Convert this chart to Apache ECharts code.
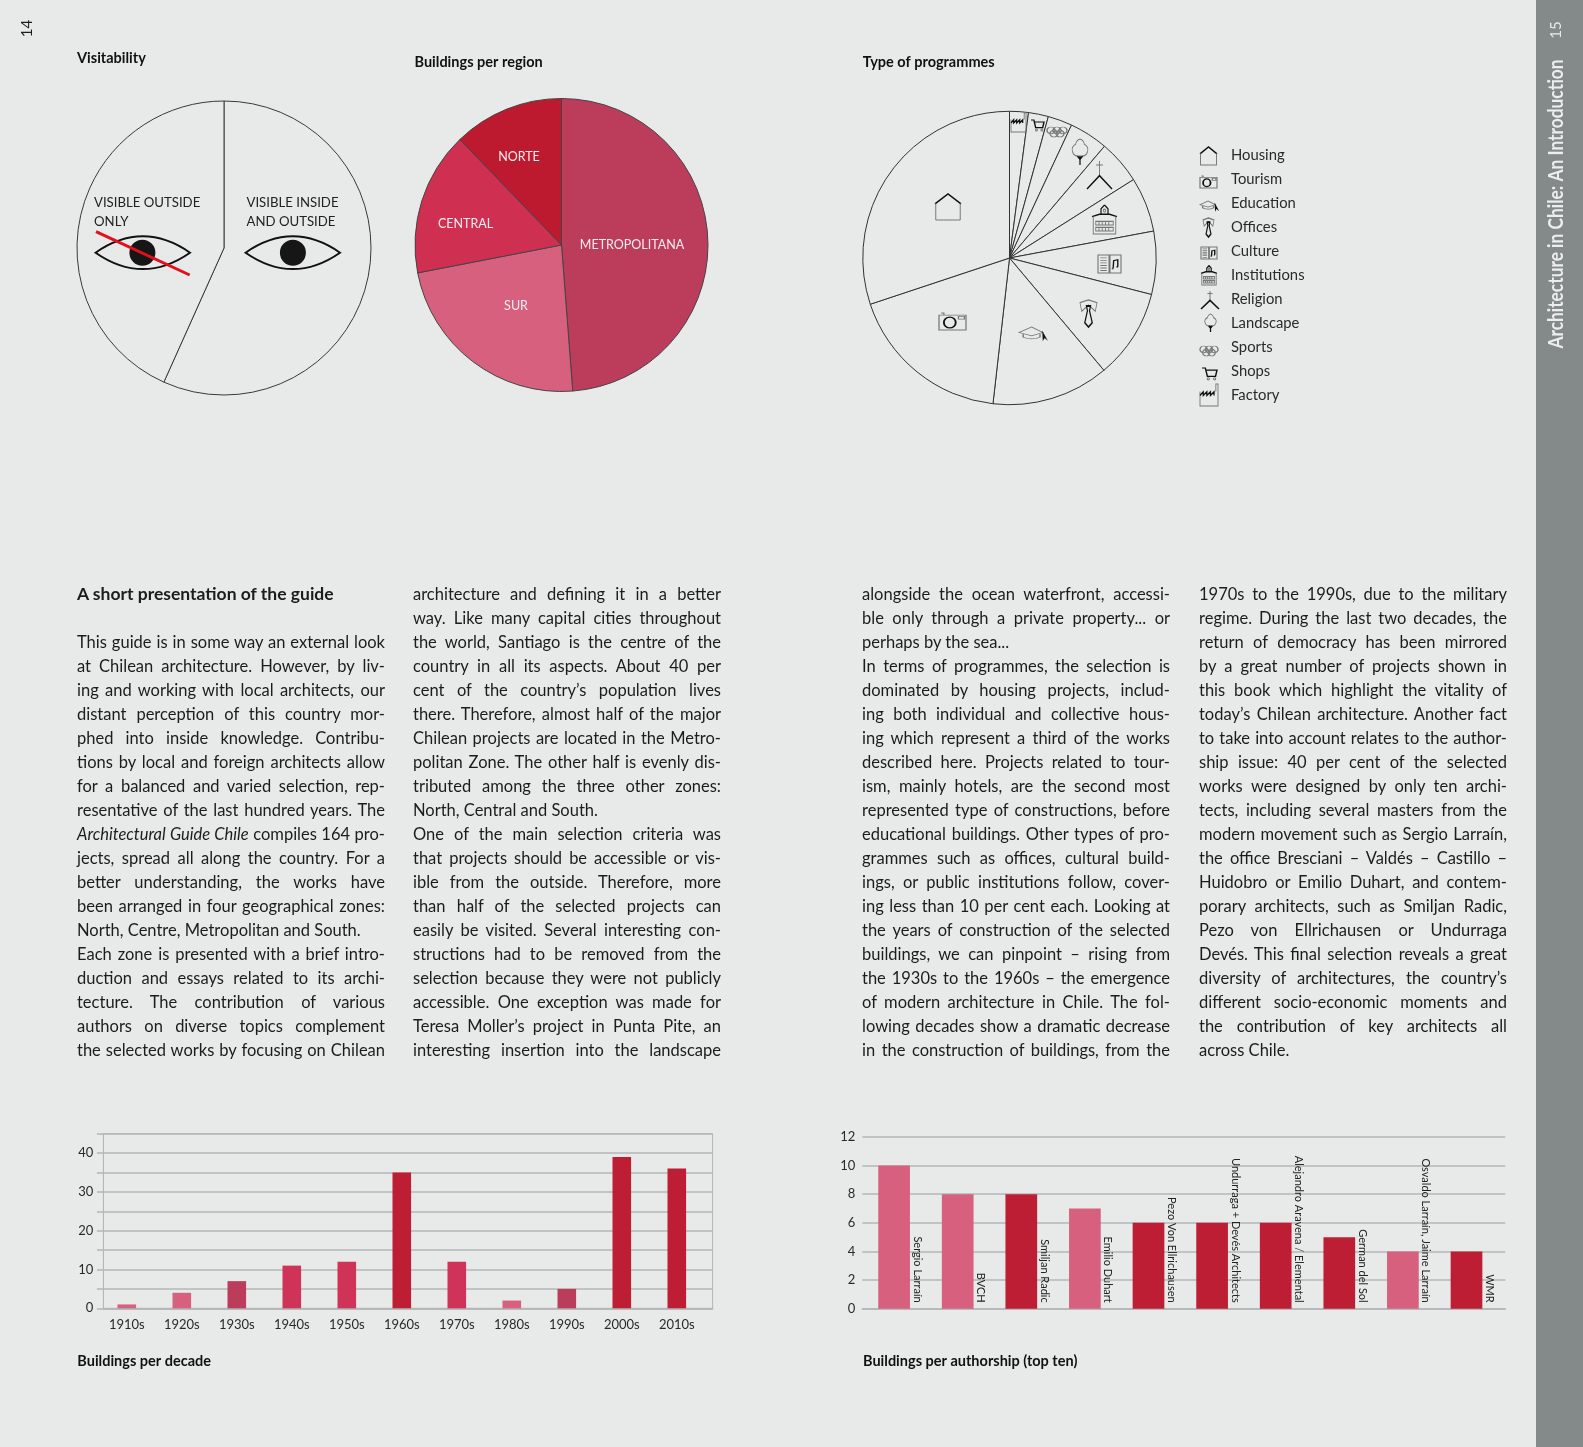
<!DOCTYPE html>
<html><head><meta charset="utf-8">
<style>
html,body{margin:0;padding:0;background:#e8e9e9;overflow:hidden}
#chart{position:absolute;left:0;top:0;width:1583px;height:1447px}
.ln{position:absolute;height:24px;line-height:24px;font-family:Lato,sans-serif;font-size:16.5px;color:#1c1c1c;text-align:justify;text-align-last:justify;transform-origin:0 0;white-space:normal}
.ln.end{text-align:left;text-align-last:left}
.ln.hd{font-weight:bold;text-align-last:left;font-size:17.5px}
.probe{position:absolute;visibility:hidden;white-space:nowrap;font-family:Lato,sans-serif;font-size:16.5px}
</style></head><body>
<div id="chart"></div>
<div id="text"></div>
<script src="https://cdn.jsdelivr.net/npm/echarts@6/dist/echarts.min.js"></script>
<script>
const visibilityNames = ['VISIBLE INSIDE\nAND OUTSIDE','VISIBLE OUTSIDE\nONLY'];
const visibilityValues = [93,71];
const regionNames = ['METROPOLITANA','SUR','CENTRAL','NORTE'];
const regionValues = [80,38,26,20];
const regionColors = ['#bc3d5b','#d7607e','#cf3052','#be1a2f'];
const programmeNames = ['Factory','Shops','Sports','Landscape','Religion','Institutions','Culture','Offices','Education','Tourism','Housing'];
const programmeValues = [3.4,3.6,4.4,7,7.9,9.9,11.4,16.2,21.2,29.7,49.4];
const legendOrder = ['Housing','Tourism','Education','Offices','Culture','Institutions','Religion','Landscape','Sports','Shops','Factory'];
const decades = ['1910s','1920s','1930s','1940s','1950s','1960s','1970s','1980s','1990s','2000s','2010s'];
const decadeValues = [1,4,7,11,12,35,12,2,5,39,36];
const decadeColors = ['#d7607e','#d7607e','#bc3d5b','#cf3357','#cf3357','#be1e34','#cf3357','#d7607e','#bc3d5b','#be1e34','#be1e34'];
const authors = ['Sergio Larraín','BVCH','Smiljan Radic','Emilio Duhart','Pezo Von Ellrichausen','Undurraga + Devés Architects','Alejandro Aravena / Elemental','German del Sol','Osvaldo Larraín, Jaime Larraín','WMR'];
const authorValues = [10,8,8,7,6,6,6,5,4,4];
const authorColors = ['#d7607e','#d7607e','#be1e34','#d7607e','#be1e34','#be1e34','#be1e34','#be1e34','#d7607e','#be1e34'];

const columnOne = ['This guide is in some way an external look','at Chilean architecture. However, by liv-','ing and working with local architects, our','distant perception of this country mor-','phed into inside knowledge. Contribu-','tions by local and foreign architects allow','for a balanced and varied selection, rep-','resentative of the last hundred years. The','<i>Architectural Guide Chile</i> compiles 164 pro-','jects, spread all along the country. For a','better understanding, the works have','been arranged in four geographical zones:','North, Centre, Metropolitan and South.|','Each zone is presented with a brief intro-','duction and essays related to its archi-','tecture. The contribution of various','authors on diverse topics complement','the selected works by focusing on Chilean'];
const columnTwo = ['architecture and defining it in a better','way. Like many capital cities throughout','the world, Santiago is the centre of the','country in all its aspects. About 40 per','cent of the country’s population lives','there. Therefore, almost half of the major','Chilean projects are located in the Metro-','politan Zone. The other half is evenly dis-','tributed among the three other zones:','North, Central and South.|','One of the main selection criteria was','that projects should be accessible or vis-','ible from the outside. Therefore, more','than half of the selected projects can','easily be visited. Several interesting con-','structions had to be removed from the','selection because they were not publicly','accessible. One exception was made for','Teresa Moller’s project in Punta Pite, an','interesting insertion into the landscape'];
const columnThree = ['alongside the ocean waterfront, accessi-','ble only through a private property... or','perhaps by the sea...|','In terms of programmes, the selection is','dominated by housing projects, includ-','ing both individual and collective hous-','ing which represent a third of the works','described here. Projects related to tour-','ism, mainly hotels, are the second most','represented type of constructions, before','educational buildings. Other types of pro-','grammes such as offices, cultural build-','ings, or public institutions follow, cover-','ing less than 10 per cent each. Looking at','the years of construction of the selected','buildings, we can pinpoint – rising from','the 1930s to the 1960s – the emergence','of modern architecture in Chile. The fol-','lowing decades show a dramatic decrease','in the construction of buildings, from the'];
const columnFour = ['1970s to the 1990s, due to the military','regime. During the last two decades, the','return of democracy has been mirrored','by a great number of projects shown in','this book which highlight the vitality of','today’s Chilean architecture. Another fact','to take into account relates to the author-','ship issue: 40 per cent of the selected','works were designed by only ten archi-','tects, including several masters from the','modern movement such as Sergio Larraín,','the office Bresciani – Valdés – Castillo –','Huidobro or Emilio Duhart, and contem-','porary architects, such as Smiljan Radic,','Pezo von Ellrichausen or Undurraga','Devés. This final selection reveals a great','diversity of architectures, the country’s','different socio-economic moments and','the contribution of key architects all','across Chile.|'];

const FONT = 'Lato,sans-serif';
const INK = '#1c1c1c';
const BG = '#e8e9e9';

// body copy: one box per printed line, narrowed only when a line would overrun the column
(function(){
  const host = document.getElementById('text');
  const probe = document.createElement('span');
  probe.className = 'probe';
  host.appendChild(probe);
  const COL = 308, BASE = 1.0;
  function put(lines, x, firstRow){
    lines.forEach((t,i)=>{
      const d = document.createElement('div');
      const end = t.endsWith('|');
      const html = end ? t.slice(0,-1) : t;
      probe.innerHTML = html;
      const natural = probe.getBoundingClientRect().width + 1;
      const s = Math.min(BASE, COL/natural);
      d.className = 'ln' + (end ? ' end' : '');
      d.style.left = x + 'px';
      d.style.top = (582 + 24*(firstRow+i)) + 'px';
      d.style.width = (COL/s) + 'px';
      d.style.transform = `scaleX(${s})`;
      d.innerHTML = html;
      host.appendChild(d);
    });
  }
  const h = document.createElement('div');
  h.className='ln hd'; h.style.left='77px'; h.style.top='582px'; h.style.width='308px'; h.textContent='A short presentation of the guide';
  host.appendChild(h);
  put(columnOne,77,2); put(columnTwo,413,0); put(columnThree,862,0); put(columnFour,1199,0);
})();

// icon drawings in a 100x100 box, [path, colour, width]
const DARK='#111', GREY='#777';
const ring=(cx,cy,rx,ry)=>`M${cx-rx} ${cy} A${rx} ${ry} 0 1 1 ${cx+rx} ${cy} A${rx} ${ry} 0 1 1 ${cx-rx} ${cy} Z`;
const iconShapes = {
  Housing:[['M0 38 L50 0 L100 38',DARK,1.5],['M3 36 V100 H97 V36',GREY,1]],
  Tourism:[['M0 12 H100 V100 H0 Z',GREY,1],[ring(40,56,22,32),DARK,1.5],['M72 20 H94 V36 H72 Z M8 0 H18 V12',GREY,1]],
  Education:[['M0 42 L45 0 L85 42 L45 68 Z M15 55 V78 Q45 104 75 78 V55',GREY,1],['M86 50 L96 88 L90 78 L87 90 Z',DARK,1]],
  Offices:[['M0 10 L50 0 L100 10 L90 42 L50 18 L10 42 Z',GREY,1],['M38 22 H62 L56 40 L72 84 L50 100 L28 84 L44 40 Z',DARK,1.5]],
  Culture:[['M0 0 H48 V100 H0 Z M52 0 H100 V100 H52 Z M10 16 H38 M10 30 H38 M10 44 H38 M10 58 H38 M10 72 H38 M10 86 H38',GREY,1],['M66 72 L68 32 L86 26 V62 M60 76 H68 M80 66 H88',DARK,1.2]],
  Institutions:[['M0 42 L30 34 H70 L100 42 M50 3 L36 16 V34 M50 3 L64 16 V34',DARK,1.3],[ring(50,22,5,5)+' M5 42 V100 H95 V42 M15 58 H85 V70 H15 Z M15 78 H85 V90 H15 Z M28 58 V70 M41 58 V70 M54 58 V70 M67 58 V70 M28 78 V90 M41 78 V90 M54 78 V90 M67 78 V90',GREY,1]],
  Religion:[['M50 0 V52 M36 14 H64',GREY,1],['M0 100 L50 52 L100 100',DARK,1.5]],
  Landscape:[['M50 0 Q70 4 74 20 Q100 30 92 48 Q86 66 60 66 H40 Q14 66 8 48 Q0 30 26 20 Q30 4 50 0 Z',GREY,1],['M50 100 V66 M50 78 L36 66 M50 78 L64 66',DARK,1.5]],
  Sports:[[ring(20,34,20,34)+ring(50,34,20,34)+ring(80,34,20,34)+ring(35,66,20,34)+ring(65,66,20,34),GREY,1]],
  Shops:[['M0 0 H22 L36 70 H90 L100 18 H26',DARK,1.3],[ring(42,90,7,10)+ring(84,90,7,10),GREY,1]],
  Factory:[['M0 34 V100 H100 V0 H88 V34',GREY,1],['M0 52 L18 36 V52 L38 36 V52 L58 36 V52 L78 36 V52',DARK,1.4]]
};
// [shape, left, top, width, height]
const iconPlaces = [
  ['Housing',935,194,26,26],['Tourism',939,313,27,17],['Education',1019,327,28,13],['Offices',1080,300,17,27],
  ['Culture',1098,255,23,18],['Institutions',1092,204,25,30],['Religion',1087,161,25,28],['Landscape',1071,139,18,26],
  ['Sports',1047,127,20,10],['Shops',1031,120,13,11],['Factory',1011,113,15,19],
  ['Housing',1200,147,17,18],['Tourism',1200,176,17,12],['Education',1200,201,18,9],['Offices',1203,218,11,19],
  ['Culture',1201,247,16,12],['Institutions',1201,265,16,20],['Religion',1201,291,18,18],['Landscape',1204,314,13,18],
  ['Sports',1200,346,18,10],['Shops',1202,368,15,12],['Factory',1200,384,18,22]
];
const eyes = [[95.6,190,142.4],[245.6,340,292.9]];

const iconSeries = {
  type:'custom', coordinateSystem:'none', silent:true, z:6, animation:false,
  data: iconPlaces.map((_,i)=>[i]),
  renderItem(p){
    const [n,x,y,w,h] = iconPlaces[p.dataIndex];
    return {type:'group', x, y, scaleX:w/100, scaleY:h/100,
      children: iconShapes[n].map(s=>({type:'path', shape:{pathData:s[0]},
        style:{fill:'none', stroke:s[1], lineWidth:s[2], strokeNoScale:true}}))};
  }
};
const eyeSeries = {
  type:'custom', coordinateSystem:'none', silent:true, z:6, animation:false,
  data: eyes.map((_,i)=>[i]),
  renderItem(p){
    const [l,r,c] = eyes[p.dataIndex];
    const children = [
      {type:'path', shape:{pathData:`M${l} 252.7 Q${(l+r)/2} 220 ${r} 252.7 Q${(l+r)/2} 285.4 ${l} 252.7 Z`}, style:{fill:'none',stroke:'#111',lineWidth:2}},
      {type:'circle', shape:{cx:c,cy:252.7,r:13}, style:{fill:'#161616'}}
    ];
    if(p.dataIndex===0) children.push({type:'line', shape:{x1:96,y1:231.7,x2:189.7,y2:275}, style:{stroke:'#e0101c',lineWidth:3}});
    return {type:'group', children};
  }
};

const visLabelAt = [[246.5,202],[94,202]];
const regionLabelAt = [[632,244],[516,305],[465.5,223],[519,156]];
const tickStyle = {color:'#2a2a2a', fontFamily:FONT, fontSize:13};
const lineC = '#b4b7b7';

const option = {
  animation:false, backgroundColor:BG,
  textStyle:{fontFamily:FONT},
  title:[
    ['Visitability',77,58],['Buildings per region',414.5,62.7],['Type of programmes',862.7,62.7],
    ['Buildings per decade',77.3,1361.7],['Buildings per authorship (top ten)',863,1361.7]
  ].map(t=>({text:t[0],left:t[1],top:t[2]-9,padding:0,textStyle:{fontFamily:FONT,fontSize:14.5,fontWeight:'bold',color:'#111',lineHeight:18}})),
  legend:{
    orient:'vertical', left:1200, top:146.5, padding:0, itemWidth:26, itemHeight:18, itemGap:6, icon:'none',
    selectedMode:false, data:legendOrder,
    textStyle:{fontFamily:FONT,fontSize:14.8,color:'#2a2a2a',lineHeight:18}
  },
  graphic:[
    {type:'rect',shape:{x:1536,y:0,width:47,height:1447},style:{fill:'#848a8a'},z:-1},
    {type:'text',x:27.5,y:28.5,rotation:Math.PI/2,style:{text:'14',fill:INK,font:`15px ${FONT}`,align:'center',verticalAlign:'middle'}},
    {type:'text',x:1556,y:30,rotation:Math.PI/2,style:{text:'15',fill:'#e8e9e9',font:`15px ${FONT}`,align:'center',verticalAlign:'middle'}},
    {type:'text',x:1556.5,y:204,rotation:Math.PI/2,scaleX:.867,style:{text:'Architecture in Chile: An Introduction',fill:'#eceded',font:`bold 20px ${FONT}`,align:'center',verticalAlign:'middle'}}
  ],
  grid:[
    {left:103.4,top:1133.7,width:609.2,height:174.6,show:true,borderColor:lineC,borderWidth:1},
    {left:99.3,top:1133.7,width:605,height:174.6},
    {left:862.3,top:1137,width:643,height:171.7},
    {left:862.3,top:1137,width:636,height:171.7}
  ],
  xAxis:[
    {type:'category',gridIndex:0,data:decades,axisLabel:{show:false},axisLine:{lineStyle:{color:lineC,width:1.5}},axisTick:{length:3,lineStyle:{color:lineC}}},
    {type:'category',gridIndex:1,data:decades,axisLine:{show:false},axisTick:{show:false},axisLabel:Object.assign({margin:10,interval:0},tickStyle)},
    {type:'category',gridIndex:2,data:authors,axisLabel:{show:false},axisLine:{lineStyle:{color:lineC,width:1.5}},axisTick:{show:false}},
    {type:'category',gridIndex:3,data:authors,axisLabel:{show:false},axisLine:{show:false},axisTick:{length:4,interval:i=>i>0,lineStyle:{color:lineC}}}
  ],
  yAxis:[
    {type:'value',gridIndex:0,min:0,max:45,interval:5,
      axisLine:{show:true,lineStyle:{color:lineC}},axisTick:{show:true,length:6.5,lineStyle:{color:lineC,width:1.5}},
      splitLine:{lineStyle:{color:lineC,width:1.5}},
      axisLabel:Object.assign({margin:10,formatter:v=>v%10===0?String(v):''},tickStyle)},
    {type:'value',gridIndex:1,min:0,max:45,interval:5,show:false,splitLine:{show:false}},
    {type:'value',gridIndex:2,min:0,max:12,interval:2,
      axisLine:{show:false},axisTick:{show:false},splitLine:{lineStyle:{color:lineC,width:1.5}},
      axisLabel:Object.assign({margin:7},tickStyle)},
    {type:'value',gridIndex:3,min:0,max:12,interval:2,show:false,splitLine:{show:false}}
  ],
  series:[
    {type:'pie',name:'Visitability',center:[224,248],radius:147,silent:true,avoidLabelOverlap:false,
      data:visibilityNames.map((n,i)=>({name:n,value:visibilityValues[i]})),
      itemStyle:{color:BG,borderColor:'#3a3a3a',borderWidth:1},labelLine:{show:false},
      label:{position:'inside',color:'#222',fontFamily:FONT,fontSize:13.2,lineHeight:19,align:'left',formatter:'{b}'},
      labelLayout:p=>({x:visLabelAt[p.dataIndex][0],y:visLabelAt[p.dataIndex][1]+10,align:'left',verticalAlign:'middle'})},
    {type:'pie',name:'Buildings per region',center:[561.5,245],radius:146.5,silent:true,avoidLabelOverlap:false,
      data:regionNames.map((n,i)=>({name:n,value:regionValues[i],itemStyle:{color:regionColors[i]}})),
      itemStyle:{borderColor:'#444',borderWidth:1},labelLine:{show:false},
      label:{position:'inside',color:'#f4eef0',fontFamily:FONT,fontSize:12.5,formatter:'{b}'},
      labelLayout:p=>({x:regionLabelAt[p.dataIndex][0],y:regionLabelAt[p.dataIndex][1]+1,align:'center',verticalAlign:'middle'})},
    {type:'pie',name:'Type of programmes',center:[1009.5,258],radius:146.7,silent:true,
      data:programmeNames.map((n,i)=>({name:n,value:programmeValues[i]})),
      itemStyle:{color:BG,borderColor:'#333',borderWidth:1},label:{show:false},labelLine:{show:false}},
    {type:'bar',name:'Buildings per decade',xAxisIndex:1,yAxisIndex:1,barWidth:18.6,silent:true,
      data:decadeValues.map((v,i)=>({value:v,itemStyle:{color:decadeColors[i]}}))},
    {type:'bar',name:'Buildings per authorship',xAxisIndex:3,yAxisIndex:3,barWidth:31.7,silent:true,
      data:authorValues.map((v,i)=>({value:v,itemStyle:{color:authorColors[i]}})),
      label:{show:true,position:'insideBottom',rotate:-90,align:'right',verticalAlign:'middle',offset:[-1,-23],
        color:'#222',fontFamily:FONT,fontSize:11,formatter:'{b}'}},
    iconSeries, eyeSeries
  ]
};
const chart = echarts.init(document.getElementById('chart'),null,{renderer:'canvas'});
chart.setOption(option);
</script>
</body></html>
